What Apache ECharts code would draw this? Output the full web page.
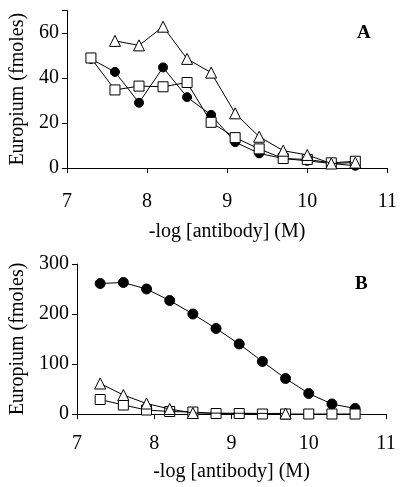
<!DOCTYPE html>
<html>
<head>
<meta charset="utf-8">
<script src="https://cdn.jsdelivr.net/npm/echarts@6/dist/echarts.min.js"></script>
<style>html,body{margin:0;padding:0;background:#fff}#c{width:400px;height:487px}</style>
</head>
<body>
<div id="c"></div>
<script>
// Panel A data
const xA = [7.3, 7.6, 7.9, 8.2, 8.5, 8.8, 9.1, 9.4, 9.7, 10.0, 10.3, 10.6];
const circleA = [48.5, 42.7, 29.0, 44.7, 31.5, 23.6, 11.5, 6.5, 4.2, 3.2, 2.0, 1.0];
const squareA = [48.9, 34.7, 36.4, 36.1, 38.0, 20.3, 13.5, 8.5, 4.2, 3.8, 2.3, 3.0];
const xTriA = [7.6, 7.9, 8.2, 8.5, 8.8, 9.1, 9.4, 9.7, 10.0, 10.3, 10.6];
const triangleA = [56.5, 54.5, 62.8, 48.5, 42.4, 24.3, 13.9, 7.7, 5.8, 2.0, 2.4];

// Panel B data
const xB = [7.3, 7.6, 7.9, 8.2, 8.5, 8.8, 9.1, 9.4, 9.7, 10.0, 10.3, 10.6];
const circleB = [261, 263, 250, 227, 200, 171, 140, 105, 71, 41, 20, 11];
const squareB = [29, 18, 8, 5, 4, 1, 1, 0, 0, 0, 0, 0];
const xTriB = [7.3, 7.6, 7.9, 8.2, 8.5, 9.7];
const triangleB = [61, 38, 21, 10, 2, 1];

const xTicks = [7, 8, 9, 10, 11];
const yTicksA = [0, 20, 40, 60];
const yTicksB = [0, 100, 200, 300];

const pairs = (xs, ys) => xs.map((x, i) => [x, ys[i]]);
const FONT = 'Liberation Serif';
const FS = 20;
const labelStyle = {color: '#000', fontFamily: FONT, fontSize: FS};

function xAxisFor(gi, labelMargin, nameGap) {
  return {
    type: 'value', gridIndex: gi, min: xTicks[0], max: xTicks[xTicks.length - 1], interval: 1,
    name: '-log [antibody] (M)', nameLocation: 'middle', nameGap: nameGap,
    nameTextStyle: {color: '#000', fontFamily: FONT, fontSize: FS},
    axisLine: {onZero: false, lineStyle: {color: '#000', width: 1}},
    axisTick: {show: true, inside: false, length: 5, lineStyle: {color: '#000'}},
    axisLabel: Object.assign({margin: labelMargin}, labelStyle),
    splitLine: {show: false}
  };
}
function yAxisFor(gi, ticks, max, gap) {
  const interval = ticks[1] - ticks[0];
  return {
    type: 'value', gridIndex: gi, min: ticks[0], max: max, interval: interval,
    name: 'Europium (fmoles)', nameLocation: 'middle', nameGap: gap,
    nameTextStyle: {color: '#000', fontFamily: FONT, fontSize: FS},
    axisLine: {show: true, lineStyle: {color: '#000', width: 1}},
    axisTick: {show: true, inside: false, length: 5, lineStyle: {color: '#000'}},
    axisLabel: Object.assign({margin: 8,
      formatter: v => (ticks.indexOf(v) >= 0 ? String(v) : '')}, labelStyle),
    splitLine: {show: false}
  };
}

function lineSeries(gi, data, symbol, size, filled, z) {
  return {
    type: 'line', xAxisIndex: gi, yAxisIndex: gi, data: data,
    symbol: symbol, symbolSize: size, showSymbol: true, showAllSymbol: true,
    lineStyle: {color: '#000', width: 1},
    itemStyle: {color: filled ? '#000' : '#fff', borderColor: '#000', borderWidth: 1},
    emphasis: {disabled: true}, animation: false, z: z
  };
}

const chart = echarts.init(document.getElementById('c'), null, {renderer: 'canvas'});
chart.setOption({
  backgroundColor: '#fff',
  animation: false,
  grid: [
    {left: 61, right: 9, top: 10.5, height: 157.5},
    {left: 70, right: 14, top: 264, height: 150}
  ],
  xAxis: [xAxisFor(0, 24, 54), xAxisFor(1, 20, 48)],
  yAxis: [yAxisFor(0, yTicksA, 70, 38), yAxisFor(1, yTicksB, 300, 49)],
  graphic: [
    {type: 'text', left: 357, top: 24, style: {text: 'A', fill: '#000', font: 'bold 19px "Liberation Serif"'}},
    {type: 'text', left: 355, top: 275, style: {text: 'B', fill: '#000', font: 'bold 19px "Liberation Serif"'}}
  ],
  series: [
    lineSeries(0, pairs(xA, circleA), 'circle', 9, true, 2),
    lineSeries(0, pairs(xA, squareA), 'rect', 10, false, 3),
    lineSeries(0, pairs(xTriA, triangleA), 'triangle', 11, false, 4),
    lineSeries(1, pairs(xB, circleB), 'circle', 10, true, 2),
    lineSeries(1, pairs(xB, squareB), 'rect', 10, false, 3),
    lineSeries(1, pairs(xTriB, triangleB), 'triangle', 11, false, 4)
  ]
});
</script>
</body>
</html>
